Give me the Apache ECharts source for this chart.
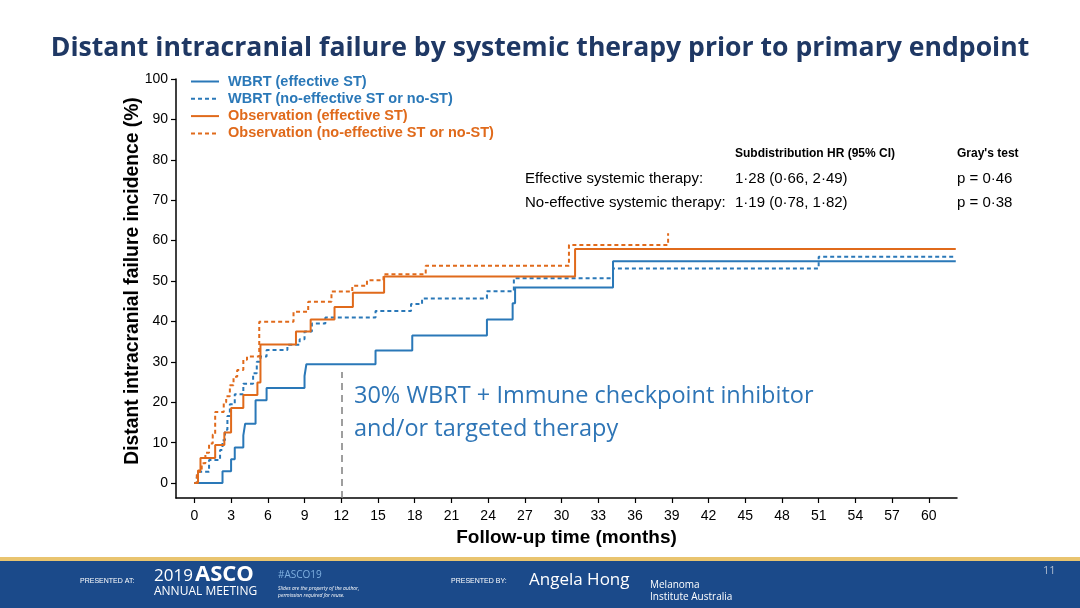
<!DOCTYPE html>
<html>
<head>
<meta charset="utf-8">
<script src="https://cdn.jsdelivr.net/npm/echarts@6/dist/echarts.min.js"></script>
<style>
  html, body { margin: 0; padding: 0; background: #fff; }
  #main { width: 1080px; height: 608px; }
</style>
</head>
<body>
<div id="main"></div>
<script>
// 刻度
var xTicks = [0, 3, 6, 9, 12, 15, 18, 21, 24, 27, 30, 33, 36, 39, 42, 45, 48, 51, 54, 57, 60];
var yTicks = [0, 10, 20, 30, 40, 50, 60, 70, 80, 90, 100];

var seriesNames = ['WBRT (effective ST)', 'WBRT (no-effective ST or no-ST)', 'Observation (effective ST)', 'Observation (no-effective ST or no-ST)'];

// WBRT effective ST
var wbrtEffTime = [0, 2.3, 3.0, 3.3, 4.0, 4.15, 5.0, 5.9, 9.0, 9.15, 14.8, 17.8, 23.9, 26.0, 26.2, 34.2, 62.2];
var wbrtEffInc  = [0, 2.9, 5.9, 8.8, 11.8, 14.7, 20.5, 23.5, 26.5, 29.4, 32.8, 36.5, 40.5, 44.5, 48.4, 54.9, 54.9];

// WBRT no-effective ST or no-ST
var wbrtNoTime = [0, 0.2, 0.3, 1.2, 2.1, 2.3, 2.5, 2.7, 2.9, 3.3, 4.0, 4.8, 5.1, 5.4, 5.9, 7.6, 8.6, 9.0, 9.6, 10.7, 14.8, 17.7, 18.6, 23.9, 26.1, 34.2, 51.0, 62.2];
var wbrtNoInc  = [0, 1.4, 2.8, 5.7, 8.2, 10.6, 13.2, 16.6, 19.5, 22.0, 24.6, 27.2, 30.0, 31.3, 32.9, 34.2, 35.6, 37.5, 39.5, 41.0, 42.6, 44.3, 45.7, 47.5, 50.7, 53.1, 56.0, 56.0];

// Observation effective ST
var obsEffTime = [0, 0.3, 0.5, 1.7, 2.45, 3.0, 4.0, 5.15, 5.4, 8.3, 9.5, 11.45, 12.95, 15.5, 31.1, 62.2];
var obsEffInc  = [0, 3.1, 6.2, 9.4, 12.5, 18.6, 21.8, 24.9, 34.3, 37.5, 40.5, 43.6, 47.1, 51.1, 57.9, 57.9];

// Observation no-effective ST or no-ST
var obsNoTime = [0, 0.2, 0.6, 0.9, 1.2, 1.5, 1.7, 2.4, 2.6, 2.9, 3.2, 3.5, 4.0, 4.3, 5.3, 8.1, 9.3, 11.2, 12.9, 14.1, 15.45, 18.9, 30.6, 38.7];
var obsNoInc  = [0, 2.8, 4.9, 7.5, 9.8, 12.0, 17.6, 20.0, 21.5, 24.2, 26.3, 28.0, 30.5, 31.3, 39.9, 42.4, 44.9, 47.4, 48.8, 50.2, 51.7, 53.8, 58.9, 61.8];

var blue = '#2a78b8';
var orange = '#e06a1b';

function pairs(t, v) {
    var out = [];
    for (var i = 0; i < t.length; i++) out.push([t[i], v[i]]);
    return out;
}

function stepSeries(name, t, v, color, dashed) {
    return {
        name: name,
        type: 'line',
        step: 'end',
        symbol: 'none',
        silent: true,
        data: pairs(t, v),
        lineStyle: { color: color, width: 2, type: dashed ? [4, 3] : 'solid' },
        itemStyle: { color: color }
    };
}

var chart = echarts.init(document.getElementById('main'));

var series = [
    stepSeries(seriesNames[0], wbrtEffTime, wbrtEffInc, blue, false),
    stepSeries(seriesNames[1], wbrtNoTime, wbrtNoInc, blue, true),
    stepSeries(seriesNames[2], obsEffTime, obsEffInc, orange, false),
    stepSeries(seriesNames[3], obsNoTime, obsNoInc, orange, true)
];
// 12个月虚线
series[0].markLine = {
    symbol: 'none',
    silent: true,
    label: { show: false },
    lineStyle: { color: '#7f7f7f', type: [7, 5], width: 1.5 },
    data: [[{ coord: [12, -3.7] }, { coord: [12, 27.5] }]]
};

var option = {
    animation: false,
    backgroundColor: '#fff',
    textStyle: { fontFamily: 'Liberation Sans, Arial, sans-serif' },
    title: {
        text: 'Distant intracranial failure by systemic therapy prior to primary endpoint',
        left: 'center',
        top: 30,
        textStyle: { fontFamily: 'Open Sans', fontWeight: 'bold', fontSize: 26.6, color: '#1f3864' }
    },
    legend: {
        orient: 'vertical',
        left: 185,
        top: 69,
        itemWidth: 28,
        itemHeight: 10,
        itemGap: 2.3,
        itemStyle: { opacity: 0 },
        textStyle: { fontWeight: 'bold', fontSize: 14.5, padding: [0, 0, 0, 4] },
        data: [
            { name: seriesNames[0], textStyle: { color: blue } },
            { name: seriesNames[1], textStyle: { color: blue } },
            { name: seriesNames[2], textStyle: { color: orange } },
            { name: seriesNames[3], textStyle: { color: orange } }
        ]
    },
    grid: { left: 176, right: 123, top: 79, bottom: 110 },
    xAxis: {
        type: 'value',
        min: -1.5,
        max: 62.3,
        name: 'Follow-up time (months)',
        nameLocation: 'middle',
        nameGap: 30,
        nameTextStyle: { fontWeight: 'bold', fontSize: 19, color: '#000' },
        axisLine: { onZero: false, lineStyle: { color: '#000', width: 1.5 } },
        axisTick: { customValues: xTicks, length: 5, lineStyle: { color: '#000', width: 1.2 } },
        axisLabel: { customValues: xTicks, color: '#000', fontSize: 14, margin: 11 },
        splitLine: { show: false }
    },
    yAxis: {
        type: 'value',
        min: -3.7,
        max: 100,
        axisLine: { show: true, onZero: false, lineStyle: { color: '#000', width: 1.5 } },
        axisTick: { show: true, customValues: yTicks, length: 5, lineStyle: { color: '#000', width: 1.2 } },
        axisLabel: { customValues: yTicks, color: '#000', fontSize: 14, margin: 8 },
        splitLine: { show: false }
    },
    series: series,
    graphic: [
        // y轴标题
        { type: 'text', x: 133, y: 281, rotation: Math.PI / 2, style: { text: 'Distant intracranial failure incidence (%)', font: 'bold 19.3px Liberation Sans', fill: '#000', align: 'center', verticalAlign: 'middle' } },
        // 表格
        { type: 'text', left: 735, top: 148, style: { text: 'Subdistribution HR (95% CI)', font: 'bold 12px Liberation Sans', fill: '#000' } },
        { type: 'text', left: 957, top: 148, style: { text: "Gray's test", font: 'bold 12px Liberation Sans', fill: '#000' } },
        { type: 'text', left: 525, top: 171, style: { text: 'Effective systemic therapy:', font: '15px Liberation Sans', fill: '#000' } },
        { type: 'text', left: 735, top: 171, style: { text: '1·28 (0·66, 2·49)', font: '15px Liberation Sans', fill: '#000' } },
        { type: 'text', left: 957, top: 171, style: { text: 'p = 0·46', font: '15px Liberation Sans', fill: '#000' } },
        { type: 'text', left: 525, top: 195, style: { text: 'No-effective systemic therapy:', font: '15px Liberation Sans', fill: '#000' } },
        { type: 'text', left: 735, top: 195, style: { text: '1·19 (0·78, 1·82)', font: '15px Liberation Sans', fill: '#000' } },
        { type: 'text', left: 957, top: 195, style: { text: 'p = 0·38', font: '15px Liberation Sans', fill: '#000' } },
        // 注释
        { type: 'text', left: 354, top: 380, style: { text: '30% WBRT + Immune checkpoint inhibitor\nand/or targeted therapy', font: '23.5px Open Sans', lineHeight: 33, fill: '#2e75b6' } },
        // 页脚
        { type: 'rect', left: 0, top: 557, shape: { width: 1080, height: 4 }, style: { fill: '#e9c46f' } },
        { type: 'rect', left: 0, top: 561, shape: { width: 1080, height: 47 }, style: { fill: '#1b4a8a' } },
        { type: 'text', left: 80, top: 578, style: { text: 'PRESENTED AT:', font: '7px Liberation Sans', fill: '#fff' } },
        { type: 'text', left: 154, top: 568, style: { text: '2019', font: '17px Open Sans', fill: '#fff' } },
        { type: 'text', left: 195, top: 564, style: { text: 'ASCO', font: 'bold 22px Open Sans', fill: '#fff' } },
        { type: 'text', left: 154, top: 586, style: { text: 'ANNUAL MEETING', font: '12px Open Sans', fill: '#fff' } },
        { type: 'text', left: 278, top: 570, style: { text: '#ASCO19', font: '10px Open Sans', fill: '#7fb0e0' } },
        { type: 'text', left: 278, top: 585, style: { text: 'Slides are the property of the author,\npermission required for reuse.', font: 'italic 5px Open Sans', lineHeight: 7, fill: '#fff' } },
        { type: 'text', left: 451, top: 578, style: { text: 'PRESENTED BY:', font: '7px Liberation Sans', fill: '#fff' } },
        { type: 'text', left: 529, top: 572, style: { text: 'Angela Hong', font: '17px Open Sans', fill: '#fff' } },
        { type: 'text', left: 650, top: 579, style: { text: 'Melanoma\nInstitute Australia', font: '10px Open Sans', lineHeight: 12, fill: '#fff' } },
        { type: 'text', left: 1043, top: 565, style: { text: '11', font: '11px Open Sans', fill: '#b0bdd0' } }
    ]
};
chart.setOption(option);
</script>
</body>
</html>
